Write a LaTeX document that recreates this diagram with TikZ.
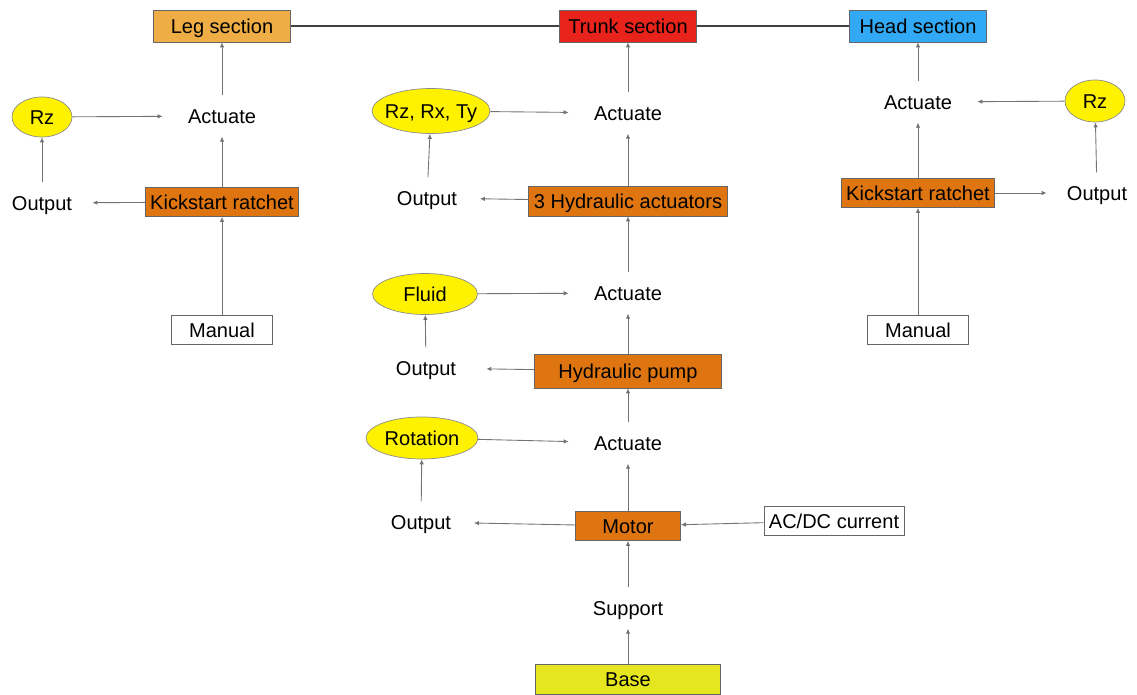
\documentclass[tikz,border=0pt]{standalone}
\usepackage{fontspec}
\setmainfont{Liberation Sans}
\usepackage{xcolor}
\usetikzlibrary{positioning,arrows.meta,shapes.geometric}
\definecolor{legcol}{RGB}{238,173,69}
\definecolor{trunkcol}{RGB}{232,35,27}
\definecolor{headcol}{RGB}{49,169,244}
\definecolor{unitcol}{RGB}{222,117,17}
\definecolor{basecol}{RGB}{230,230,32}

\begin{document}
\begin{tikzpicture}[
  x=0.02cm, y=-0.02cm,
  font=\fontsize{11.4}{13}\selectfont,
  txt/.style={text height=10pt, text depth=1.8pt},
  part/.style={txt, draw=black!60, minimum height=0.6cm, inner sep=1pt},
  sect/.style={part, minimum width=2.74cm, minimum height=0.64cm},
  unit/.style={part, fill=unitcol},
  src/.style={part, fill=white},
  blob/.style={txt, ellipse, draw=black!45, fill=yellow, inner sep=0pt},
  word/.style={txt, inner xsep=0.5cm, inner ysep=0.2cm},
  arr/.style={-{Latex[length=1mm,width=0.9mm]}, draw=black!55, line width=0.5pt},
  link/.style={draw=black!75, line width=1.5pt},
]
\useasboundingbox (0,0) rectangle (1137,695);

% sections along the top
\node[sect, fill=legcol] (legsec) at (222,26) {Leg section};
\node[sect, fill=trunkcol] (trunksec) at (628,26) {Trunk section};
\node[sect, fill=headcol] (headsec) at (918,26) {Head section};
\draw[link] (legsec) -- (trunksec);
\draw[link] (trunksec) -- (headsec);

% leg
\node[word] (legact) at (222,116) {Actuate};
\node[blob, minimum width=1.2cm, minimum height=0.8cm] (legrz) at (42,117) {Rz};
\node[word, inner xsep=0.4cm] (legout) at (42,203) {Output};
\node[unit, minimum width=3.06cm, minimum height=0.58cm] (legratchet) at (222,202) {Kickstart ratchet};
\node[src, minimum width=2.02cm, minimum height=0.58cm] (legmanual) at (222,330) {Manual};

% trunk
\node[word] (trunkact) at (628,113) {Actuate};
\node[blob, inner xsep=-5pt, minimum width=2.36cm, minimum height=0.9cm] (trunkdof) at (431,111) {Rz, Rx, Ty};
\node[word, inner xsep=0.45cm] (trunkout) at (427,198) {Output};
\node[unit, minimum width=3.98cm] (actuators) at (628,201) {3 Hydraulic actuators};
\node[word] (pumpact) at (628,293) {Actuate};
\node[blob, minimum width=2.1cm, minimum height=0.82cm] (fluid) at (425,294) {Fluid};
\node[word, inner xsep=0.6cm] (pumpout) at (426,368) {Output};
\node[unit, minimum width=3.74cm, minimum height=0.68cm] (pump) at (628,371) {Hydraulic pump};
\node[word] (motoract) at (628,443) {Actuate};
\node[blob, inner xsep=-3pt, minimum width=2.24cm, minimum height=0.84cm] (rotation) at (422,438) {Rotation};
\node[word, inner xsep=0.45cm] (motorout) at (421,522) {Output};
\node[unit, minimum width=2.1cm, minimum height=0.58cm] (motor) at (628,526) {Motor};
\node[src, minimum width=2.8cm, minimum height=0.58cm] (current) at (834,521) {AC/DC current};
\node[word] (support) at (628,608) {Support};
\node[part, fill=basecol, minimum width=3.7cm] (base) at (628,679) {Base};

% head
\node[word] (headact) at (918,102) {Actuate};
\node[blob, minimum width=1.2cm, minimum height=0.84cm] (headrz) at (1095,101) {Rz};
\node[word, inner xsep=0.4cm] (headout) at (1097,193) {Output};
\node[unit, minimum width=3.06cm, minimum height=0.58cm] (headratchet) at (918,193) {Kickstart ratchet};
\node[src, minimum width=2.02cm, minimum height=0.58cm] (headmanual) at (918,330) {Manual};

\foreach \a/\b in {legact/legsec, legratchet/legact, legmanual/legratchet,
                   legratchet/legout, legout/legrz, legrz/legact,
                   trunkact/trunksec, actuators/trunkact, actuators/trunkout,
                   trunkout/trunkdof, trunkdof/trunkact,
                   pumpact/actuators, pump/pumpact, pump/pumpout,
                   pumpout/fluid, fluid/pumpact,
                   motoract/pump, motor/motoract, motor/motorout,
                   motorout/rotation, rotation/motoract,
                   current/motor, support/motor, base/support,
                   headact/headsec, headratchet/headact, headmanual/headratchet,
                   headratchet/headout, headout/headrz, headrz/headact}
  \draw[arr] (\a) -- (\b);
\end{tikzpicture}
\end{document}
